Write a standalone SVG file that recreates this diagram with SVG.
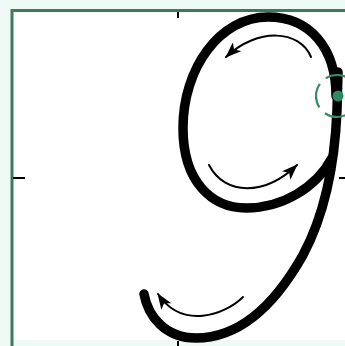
<svg xmlns="http://www.w3.org/2000/svg" width="345" height="346" viewBox="0 0 345 346">
<defs>
<style>
.stroke9{fill:none;stroke:#000;stroke-width:9.5;stroke-linecap:round;stroke-linejoin:round}
.arrow{fill:none;stroke:#000;stroke-width:2;stroke-linecap:round}
.tick{stroke:#000;stroke-width:2}
.frame{fill:none;stroke:#3c7a5e;stroke-width:3}
</style>
<marker id="ah" viewBox="0 0 16 12" refX="15" refY="6" markerWidth="16" markerHeight="12" markerUnits="userSpaceOnUse" orient="auto">
<path d="M0,0 L16,6 L0,12 L4,6 Z" fill="#000"/>
</marker>
</defs>
<rect x="0" y="0" width="345" height="346" fill="#eefaf5"/>
<rect x="12" y="10" width="333" height="330" fill="#ffffff"/>
<path class="frame" d="M12,346 L12,10.5 L345,10.5"/>
<line class="tick" x1="178" y1="12" x2="178" y2="18"/>
<line class="tick" x1="13" y1="178" x2="25" y2="178"/>
<line class="tick" x1="339" y1="178" x2="345" y2="178"/>
<line class="tick" x1="178" y1="341" x2="178" y2="346"/>
<path class="stroke9" d="M336,96 C336,48 310,17 268,17 C220,17 183,68 183,128 C183,182 212,208 246,208 C282,208 316,188 332,158"/>
<path class="stroke9" d="M338,72 L337,110 C335,160 326,212 303,255 C272,310 236,338 196,338 C165,338 148,316 144,294"/>
<circle cx="337" cy="96" r="21" fill="none" stroke="#3c8a66" stroke-width="2.2" stroke-dasharray="25 8" stroke-dashoffset="12.5"/>
<circle cx="338" cy="96" r="5.5" fill="#2e8a5e"/>
<path class="arrow" marker-end="url(#ah)" d="M311,57 C300,30 258,27 226,57"/>
<path class="arrow" marker-end="url(#ah)" d="M209,165 C225,196 265,196 297,165"/>
<path class="arrow" marker-end="url(#ah)" d="M243,297 C225,315 182,330 158,294"/>
</svg>
